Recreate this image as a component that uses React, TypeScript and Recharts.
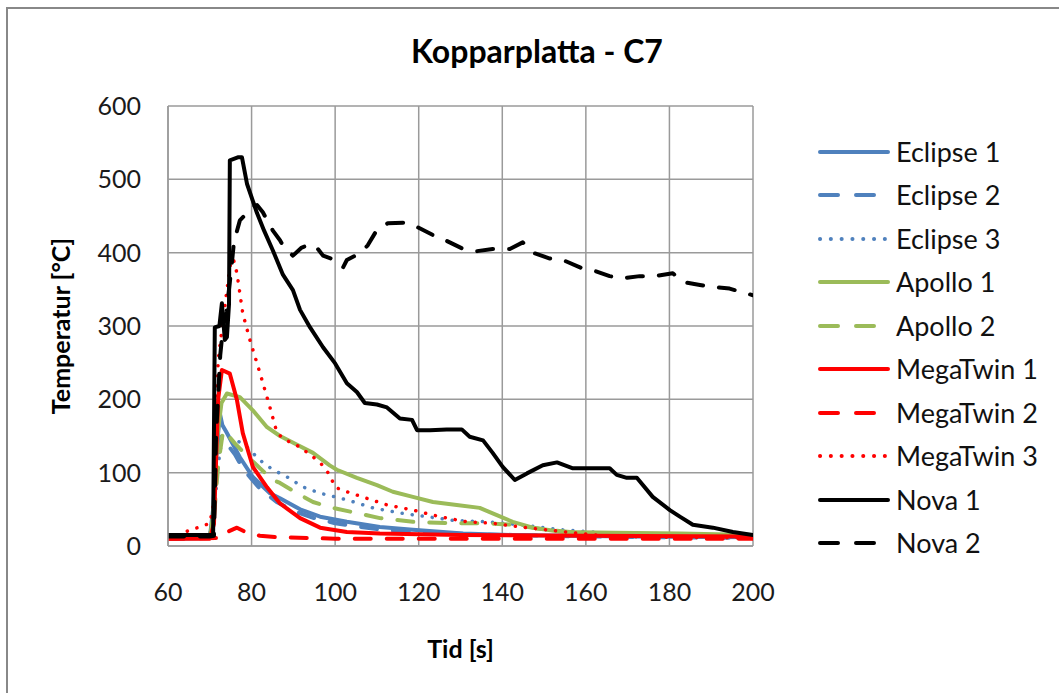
import React from "react";
import { LineChart, Line, XAxis, YAxis, CartesianGrid, Legend, Label } from "recharts";

type P = [number, number];

// Data: [time (s), temperature (°C)]
const eclipse1: P[] = [[60,10],[70,11],[70.8,50],[71.5,120],[72.4,181],[73,165],[74.1,154],[77.2,121],[80.3,94],[84.4,72],[86.8,65],[91.6,50],[96.4,40],[102.8,33],[110.7,26],[118.6,22],[130.6,17],[142.5,15],[170,13],[200,12]];
const eclipse2: P[] = [[60,10],[70,11],[71,50],[72,120],[72.8,150],[74,140],[76,125],[78,105],[82,78],[86,60],[90,48],[95,38],[100,31],[110,23],[120,18],[140,15],[160,13],[200,11]];
const eclipse3: P[] = [[60,11],[70,12],[71,40],[72,110],[73,150],[74.5,148],[76.5,144],[78.9,135],[82,117],[85.1,104],[89.9,90],[91.6,82],[96.4,72],[102.8,63],[109,52],[115.5,45],[122,40],[128.2,35],[136.3,33],[144.2,29],[154.5,22],[166.5,17],[180,15],[200,13]];
const apollo1: P[] = [[60,12],[70,12],[70.8,40],[71.8,150],[72.8,195],[74.1,208],[77.2,203],[80.3,185],[83.7,162],[86.8,150],[90.9,138],[94.7,127],[98.7,110],[100.4,104],[105.2,93],[110,83],[113.8,74],[118.6,67],[123.4,60],[129.1,56],[134.6,52],[138.7,42],[142.5,33],[147.3,25],[154.5,19],[166.5,18],[182.5,17],[200,15]];
const apollo2: P[] = [[60,12],[70,12],[71,40],[72,110],[73,150],[73.6,158],[74.5,150],[76,140],[78,128],[82,106],[85.1,90],[86.8,86],[90.9,72],[94.7,60],[98.7,53],[104.3,46],[110.7,38],[118.6,33],[128.2,31],[136.3,31],[142.5,29],[150.7,22],[158.6,18],[170,16],[200,14]];
const megaTwin1: P[] = [[60,10],[70,10],[71,30],[72,200],[72.9,240],[74.8,235],[76.5,199],[77.9,154],[80.3,108],[83.7,80],[86.8,58],[91.6,38],[96.4,25],[102.8,19],[110.7,17],[130,15],[160,14],[200,13]];
const megaTwin2: P[] = [[60,10],[73,11],[74.5,20],[76.5,25],[78.9,18],[82,14],[86.1,12],[100,10],[150,10],[200,10]];
const megaTwin3: P[] = [[60,13],[63,16],[65.3,22],[67.7,26],[70,31],[71,60],[72,253],[73,300],[74.1,349],[75.3,399],[76.5,372],[77.9,317],[79.6,281],[82,236],[84.4,189],[86.1,154],[88,145],[91.6,135],[96.4,114],[98.7,97],[100,80],[102.8,74],[107.6,65],[112.4,56],[118.6,49],[125,40],[131.5,33],[137.7,31],[144.2,26],[150.7,22],[158.6,17],[166.5,13],[180,12],[200,11]];
const nova1: P[] = [[60,15],[70,15],[70.8,16],[71.2,298],[72.3,300],[72.9,331],[73.6,281],[74.1,285],[74.6,330],[74.8,526],[76.7,530],[77.7,530],[78.9,494],[81.3,454],[83,430],[85.1,403],[87.5,370],[89.9,349],[91.6,322],[94,298],[97.1,271],[100,249],[102.8,222],[105.2,210],[107.1,195],[110,193],[112.4,189],[115.5,174],[118.4,172],[119.6,158],[122.7,158],[126.7,159],[130.3,159],[132.2,149],[135.4,144],[137.7,127],[140.1,108],[143,90],[145.9,99],[149.7,110],[153.1,114],[156.9,106],[161,106],[165.7,106],[167.4,97],[169.8,93],[172.2,93],[176,67],[180.1,49],[182.5,40],[185.6,29],[190.4,25],[195.2,19],[200,15]];
const nova2: P[] = [[60,13],[70,13],[71,14],[71.5,150],[72.5,260],[73.2,300],[74,320],[75,370],[75.8,415],[77.2,444],[78.9,454],[80,462],[81.3,465],[82.7,455],[85.1,430],[86.8,417],[88,405],[89.9,396],[92,407],[93.5,410],[95.2,410],[97.1,396],[100,390],[101.9,380],[102.8,390],[105.9,399],[107.8,410],[110.2,433],[112.6,440],[116.7,441],[119.6,435],[123.4,424],[126.7,416],[130.3,406],[133.9,402],[137.7,405],[141.8,405],[144.9,414],[147.3,400],[151.4,392],[154.5,390],[159,379],[161.7,376],[165.7,368],[168.8,365],[172.9,368],[176.5,368],[180.8,372],[183.2,360],[187.3,356],[190.8,353],[194.4,351],[198,345],[200,342]];

const seriesNames = ["Eclipse 1","Eclipse 2","Eclipse 3","Apollo 1","Apollo 2","MegaTwin 1","MegaTwin 2","MegaTwin 3","Nova 1","Nova 2"];
const seriesData: P[][] = [eclipse1, eclipse2, eclipse3, apollo1, apollo2, megaTwin1, megaTwin2, megaTwin3, nova1, nova2];

const xTicks = [60, 80, 100, 120, 140, 160, 180, 200];
const yTicks = [0, 100, 200, 300, 400, 500, 600];

// Styles
const BLUE = "#4F81BD";
const GREEN = "#9BBB59";
const RED = "#FF0000";
const BLACK = "#000000";
const seriesColors = [BLUE, BLUE, BLUE, GREEN, GREEN, RED, RED, RED, BLACK, BLACK];
const seriesKinds = ["solid","dash","dot","solid","dash","solid","dash","dot","solid","dash"];

const dashFor = (k: string) => (k === "dash" ? "16 16" : k === "dot" ? "0.1 10" : undefined);

const FONT = "Lato, 'Open Sans', sans-serif";

const renderLegend = () => (
  <div style={{ fontFamily: FONT }}>
    {seriesNames.map((n, i) => (
      <div key={n} style={{ display: "flex", alignItems: "center", height: 43.5 }}>
        <svg width={72} height={12} style={{ display: "block" }}>
          <line
            x1={2}
            y1={6}
            x2={seriesKinds[i] === "dash" ? 58 : 70}
            y2={6}
            stroke={seriesColors[i]}
            strokeWidth={4}
            strokeLinecap="round"
            strokeDasharray={seriesKinds[i] === "dash" ? "18 18" : seriesKinds[i] === "dot" ? "0.1 10.7" : undefined}
          />
        </svg>
        <span style={{ marginLeft: 6, fontSize: 27, color: "#111", lineHeight: "30px" }}>{n}</span>
      </div>
    ))}
  </div>
);

export default function App() {
  return (
    <div style={{ position: "absolute", left: 0, top: 0, width: 1059, height: 693, background: "#fff", overflow: "hidden" }}>
      <div style={{ position: "absolute", left: 6, top: 7, width: 1100, height: 720, borderLeft: "2.5px solid #888", borderTop: "2.5px solid #888" }} />
      <div style={{ position: "absolute", left: 0, top: 31, width: 1074, textAlign: "center", fontFamily: FONT, fontWeight: 700, fontSize: 32, color: "#000", lineHeight: "40px" }}>
        Kopparplatta - C7
      </div>
      <div style={{ position: "absolute", left: 0, top: 0 }}>
        <LineChart width={1059} height={693} margin={{ top: 106, right: 306, bottom: 97, left: 108 }}>
          <CartesianGrid stroke="#9a9a9a" strokeWidth={1.5} />
          <XAxis
            type="number"
            dataKey="x"
            domain={[60, 200]}
            ticks={xTicks}
            allowDataOverflow
            height={50}
            tickLine={false}
            tickSize={0}
            tickMargin={37}
            axisLine={{ stroke: "#9a9a9a", strokeWidth: 1.5 }}
            tick={{ fill: "#1a1a1a", fontSize: 25, fontFamily: FONT }}
          >
            <Label value="Tid [s]" position="bottom" offset={44} style={{ fontFamily: FONT, fontWeight: 700, fontSize: 25, fill: "#000" }} />
          </XAxis>
          <YAxis
            type="number"
            domain={[0, 600]}
            ticks={yTicks}
            allowDataOverflow
            width={60}
            tickLine={false}
            tickSize={0}
            tickMargin={27}
            axisLine={{ stroke: "#9a9a9a", strokeWidth: 1.5 }}
            tick={{ fill: "#1a1a1a", fontSize: 25, fontFamily: FONT }}
          >
            <Label value="Temperatur [°C]" angle={-90} position="insideLeft" offset={0} dx={-47} style={{ fontFamily: FONT, fontWeight: 700, fontSize: 25, fill: "#000", textAnchor: "middle" }} />
          </YAxis>
          <Legend
            layout="vertical"
            align="center"
            verticalAlign="middle"
            content={renderLegend}
            wrapperStyle={{ left: 818, top: 130, width: 241, height: 440 }}
          />
          {seriesNames.map((n, i) => (
            <Line
              key={n}
              name={n}
              data={seriesData[i].map(([x, y]) => ({ x, y }))}
              dataKey="y"
              type="linear"
              stroke={seriesColors[i]}
              strokeWidth={seriesKinds[i] === "dot" ? 3.5 : 4}
              strokeDasharray={dashFor(seriesKinds[i])}
              strokeLinecap="round"
              strokeLinejoin="round"
              dot={false}
              activeDot={false}
              isAnimationActive={false}
            />
          ))}
        </LineChart>
      </div>
    </div>
  );
}
